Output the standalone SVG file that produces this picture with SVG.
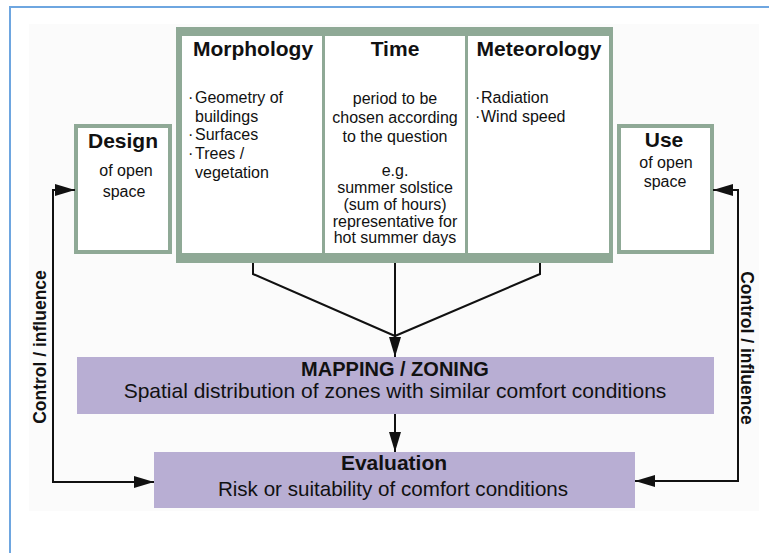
<svg xmlns="http://www.w3.org/2000/svg" width="769" height="553" viewBox="0 0 769 553">
<defs>
<style>
text{font-family:"Liberation Sans",Arial,sans-serif;fill:#111}
.t{font-weight:bold;font-size:21px;text-anchor:middle}
.b{font-size:16px}
.c{font-size:16px;text-anchor:middle}
.big{font-size:21px;text-anchor:middle}
.ci{font-weight:bold;font-size:17.5px;text-anchor:middle}
.wire{fill:none;stroke:#111;stroke-width:2}
.box{fill:#fff;stroke:#8fa996;stroke-width:4}
.lav{fill:#b8aed3}
</style>
<marker id="arr" viewBox="0 0 20 12" refX="20" refY="6" markerWidth="20" markerHeight="12" markerUnits="userSpaceOnUse" orient="auto-start-reverse">
<path d="M0,0 L20,6 L0,12 Z" fill="#111"/>
</marker>
</defs>
<rect x="10" y="7" width="800" height="600" fill="#fff" stroke="#6ea6e0" stroke-width="2"/>
<rect x="29" y="24" width="730" height="487" fill="#fbfbfb"/>

<g id="factors">
<rect x="176" y="27" width="437" height="236" fill="#8fa996"/>
<rect x="182" y="36" width="140" height="217" fill="#fff"/>
<rect x="325" y="36" width="140" height="217" fill="#fff"/>
<rect x="468" y="36" width="141" height="217" fill="#fff"/>
</g>
<g id="morphology">
<text class="t" x="253" y="56">Morphology</text>
<text class="b" x="188" y="103">·<tspan x="195">Geometry of</tspan></text>
<text class="b" x="195" y="122">buildings</text>
<text class="b" x="188" y="140">·<tspan x="195">Surfaces</tspan></text>
<text class="b" x="188" y="159">·<tspan x="195">Trees /</tspan></text>
<text class="b" x="195" y="178">vegetation</text>
</g>
<g id="time">
<text class="t" x="395" y="56">Time</text>
<text class="c" x="395" y="104">period to be</text>
<text class="c" x="395" y="123">chosen according</text>
<text class="c" x="395" y="142">to the question</text>
<text class="c" x="395" y="176">e.g.</text>
<text class="c" x="395" y="193">summer solstice</text>
<text class="c" x="395" y="210">(sum of hours)</text>
<text class="c" x="395" y="227">representative for</text>
<text class="c" x="395" y="243">hot summer days</text>
</g>
<g id="meteorology">
<text class="t" x="539" y="56">Meteorology</text>
<text class="b" x="475" y="103">·<tspan x="481">Radiation</tspan></text>
<text class="b" x="475" y="122">·<tspan x="481">Wind speed</tspan></text>
</g>
<g id="design">
<rect class="box" x="76" y="126" width="94" height="126"/>
<text class="t" x="123" y="148">Design</text>
<text class="c" x="126" y="176">of open</text>
<text class="c" x="124" y="197">space</text>
</g>
<g id="use">
<rect class="box" x="619" y="126" width="93" height="126"/>
<text class="t" x="664" y="147">Use</text>
<text class="c" x="666" y="168">of open</text>
<text class="c" x="665" y="187">space</text>
</g>
<g id="mapping">
<rect class="lav" x="77" y="357" width="637" height="57"/>
<text class="t" x="395" y="376" style="font-size:20px">MAPPING / ZONING</text>
<text class="big" x="395" y="398">Spatial distribution of zones with similar comfort conditions</text>
</g>
<g id="evaluation">
<rect class="lav" x="154" y="452" width="481" height="56"/>
<text class="t" x="394" y="470">Evaluation</text>
<text class="big" x="393" y="496" style="font-size:20.6px">Risk or suitability of comfort conditions</text>
</g>
<g id="connectors">
<path class="wire" d="M253,263 V274 L395,336"/>
<path class="wire" d="M540,263 V274 L395,336"/>
<path class="wire" d="M395,263 V357" marker-end="url(#arr)"/>
<path class="wire" d="M395,414 V452" marker-end="url(#arr)"/>
<path class="wire" d="M75,190 H53 V482 H154" marker-start="url(#arr)" marker-end="url(#arr)"/>
<path class="wire" d="M713,190 H738 V481 H635" marker-start="url(#arr)" marker-end="url(#arr)"/>
<text class="ci" transform="translate(46,347) rotate(-90)">Control / influence</text>
<text class="ci" transform="translate(741,348) rotate(90)">Control / influence</text>
</g>
</svg>
